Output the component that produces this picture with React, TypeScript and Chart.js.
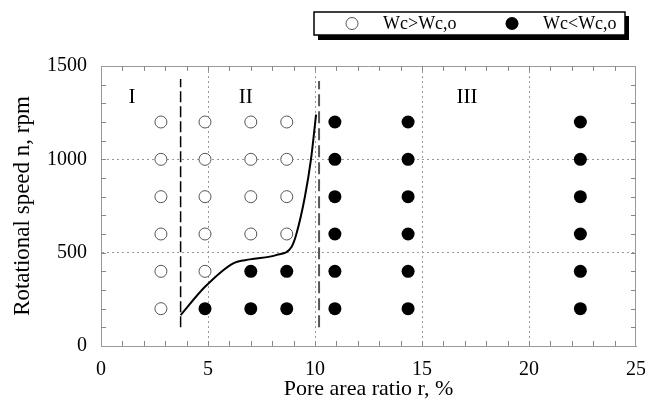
import React, { useEffect, useRef } from "react";
import { Chart, registerables } from "chart.js";

Chart.register(...registerables);

// ---- data ----
const openX = [2.8, 2.8, 2.8, 2.8, 2.8, 2.8, 4.86, 4.86, 4.86, 4.86, 4.86, 7.0, 7.0, 7.0, 7.0, 8.68, 8.68, 8.68, 8.68];
const openY = [200, 400, 600, 800, 1000, 1200, 400, 600, 800, 1000, 1200, 600, 800, 1000, 1200, 600, 800, 1000, 1200];

const filledX = [4.86, 7.0, 7.0, 8.68, 8.68,
  10.93, 10.93, 10.93, 10.93, 10.93, 10.93,
  14.35, 14.35, 14.35, 14.35, 14.35, 14.35,
  22.4, 22.4, 22.4, 22.4, 22.4, 22.4];
const filledY = [200, 200, 400, 200, 400,
  200, 400, 600, 800, 1000, 1200,
  200, 400, 600, 800, 1000, 1200,
  200, 400, 600, 800, 1000, 1200];

const curveX = [3.72, 4.86, 6.18, 6.96, 8.21, 8.91, 9.14, 9.53, 9.81, 10.05];
const curveY = [165, 317, 443, 464, 488, 532, 604, 801, 998, 1240];

const boundary1X = [3.72, 3.72];
const boundary1Y = [100, 1430];
const boundary2X = [10.19, 10.19];
const boundary2Y = [100, 1420];

const regionLabels = ["I", "II", "III"];
const regionX = [1.45, 6.76, 17.1];
const regionY = [1330, 1330, 1330];

const legendLabels = ["Wc>Wc,o", "Wc<Wc,o"];
const xTitle = "Pore area ratio r, %";
const yTitle = "Rotational speed n, rpm";

const SERIF = "'Liberation Serif', 'Times New Roman', serif";

const zip = (xs: number[], ys: number[]) => xs.map((x, i) => ({ x, y: ys[i] }));

const decorPlugin = {
  id: "decor",
  afterDraw(chart: any) {
    const { ctx, chartArea: a, scales } = chart;
    const xs = scales.x;
    const ys = scales.y;
    ctx.save();
    // top & right border
    ctx.strokeStyle = "#999";
    ctx.lineWidth = 1;
    ctx.beginPath();
    ctx.moveTo(a.left, a.top + 0.5);
    ctx.lineTo(a.right, a.top + 0.5);
    ctx.moveTo(a.right - 0.5, a.top);
    ctx.lineTo(a.right - 0.5, a.bottom);
    ctx.stroke();
    // inward minor ticks
    ctx.strokeStyle = "#888";
    ctx.beginPath();
    for (let v = 1; v < 25; v++) {
      const px = Math.round(xs.getPixelForValue(v)) + 0.5;
      ctx.moveTo(px, a.bottom);
      ctx.lineTo(px, a.bottom - 5);
      ctx.moveTo(px, a.top);
      ctx.lineTo(px, a.top + 5);
    }
    for (let v = 100; v < 1500; v += 100) {
      const py = Math.round(ys.getPixelForValue(v)) + 0.5;
      ctx.moveTo(a.left, py);
      ctx.lineTo(a.left + 5, py);
      ctx.moveTo(a.right, py);
      ctx.lineTo(a.right - 5, py);
    }
    ctx.stroke();
    // region labels
    ctx.fillStyle = "#000";
    ctx.font = `21px ${SERIF}`;
    ctx.textAlign = "center";
    ctx.textBaseline = "middle";
    regionLabels.forEach((t, i) => {
      ctx.fillText(t, xs.getPixelForValue(regionX[i]), ys.getPixelForValue(regionY[i]));
    });
    // legend box with shadow
    const L = 314, T = 12, R = 625, B = 35;
    ctx.fillStyle = "#000";
    ctx.fillRect(L + 4, T + 4, R - L, B - T + 1);
    ctx.fillStyle = "#fff";
    ctx.fillRect(L, T, R - L, B - T);
    ctx.strokeStyle = "#000";
    ctx.lineWidth = 1.5;
    ctx.strokeRect(L, T, R - L, B - T);
    // legend markers
    ctx.lineWidth = 1;
    ctx.strokeStyle = "#555";
    ctx.beginPath();
    ctx.arc(352, 23.5, 6, 0, Math.PI * 2);
    ctx.stroke();
    ctx.fillStyle = "#000";
    ctx.beginPath();
    ctx.arc(512, 23.5, 6.5, 0, Math.PI * 2);
    ctx.fill();
    ctx.font = `18px ${SERIF}`;
    ctx.textAlign = "left";
    ctx.textBaseline = "middle";
    ctx.fillText(legendLabels[0], 383, 24);
    ctx.fillText(legendLabels[1], 543, 24);
    ctx.restore();
  },
};

export default function App() {
  const ref = useRef<HTMLCanvasElement>(null);
  useEffect(() => {
    if (!ref.current) return;
    const chart = new Chart(ref.current, {
      type: "scatter",
      data: {
        datasets: [
          {
            label: "b1",
            data: zip(boundary1X, boundary1Y),
            showLine: true,
            borderColor: "#000",
            borderWidth: 1.5,
            borderDash: [11, 4],
            pointRadius: 0,
          },
          {
            label: "b2",
            data: zip(boundary2X, boundary2Y),
            showLine: true,
            borderColor: "#555",
            borderWidth: 2,
            borderDash: [12, 5],
            pointRadius: 0,
          },
          {
            label: "curve",
            data: zip(curveX, curveY),
            showLine: true,
            borderColor: "#000",
            borderWidth: 2,
            cubicInterpolationMode: "monotone",
            pointRadius: 0,
          },
          {
            label: legendLabels[0],
            data: zip(openX, openY),
            pointStyle: "circle",
            pointRadius: 6,
            backgroundColor: "#fff",
            borderColor: "#555",
            borderWidth: 1,
          },
          {
            label: legendLabels[1],
            data: zip(filledX, filledY),
            pointStyle: "circle",
            pointRadius: 6.5,
            backgroundColor: "#000",
            borderColor: "#000",
            borderWidth: 0,
          },
        ],
      } as any,
      options: {
        animation: false,
        responsive: false,
        maintainAspectRatio: false,
        layout: { padding: { top: 66, right: 9, left: 0, bottom: 0 } },
        plugins: { legend: { display: false }, tooltip: { enabled: false } },
        scales: {
          x: {
            type: "linear",
            min: 0,
            max: 25,
            afterFit(s: any) {
              s.height = 58;
              s.paddingLeft = 0;
              s.paddingRight = 0;
            },
            ticks: {
              stepSize: 5,
              color: "#000",
              padding: 12,
              font: { family: SERIF, size: 20 },
              callback: (v: any) => String(v),
            },
            grid: {
              drawTicks: false,
              color: (c: any) => (c.tick && (c.tick.value === 0 || c.tick.value === 25) ? "rgba(0,0,0,0)" : "#999"),
              lineWidth: 1,
            },
            border: { display: true, color: "#999", width: 1, dash: [2, 3] },
            title: {
              display: true,
              text: xTitle,
              color: "#000",
              font: { family: SERIF, size: 22 },
              padding: { top: 0, bottom: 2 },
            },
          } as any,
          y: {
            type: "linear",
            min: 0,
            max: 1500,
            afterFit(s: any) {
              s.width = 101;
            },
            ticks: {
              stepSize: 500,
              color: "#000",
              padding: 14,
              font: { family: SERIF, size: 20 },
              callback: (v: any) => String(v),
            },
            grid: {
              drawTicks: false,
              color: (c: any) => (c.tick && (c.tick.value === 0 || c.tick.value === 1500) ? "rgba(0,0,0,0)" : "#999"),
              lineWidth: 1,
            },
            border: { display: true, color: "#999", width: 1, dash: [2, 3] },
            title: {
              display: true,
              text: yTitle,
              color: "#000",
              font: { family: SERIF, size: 23 },
              padding: { top: 9, bottom: 0 },
            },
          } as any,
        },
      },
      plugins: [decorPlugin],
    });
    return () => chart.destroy();
  }, []);
  return (
    <div style={{ position: "fixed", left: 0, top: 0, width: 645, height: 404, background: "#fff" }}>
      <canvas ref={ref} width={645} height={404} style={{ display: "block" }} />
    </div>
  );
}
